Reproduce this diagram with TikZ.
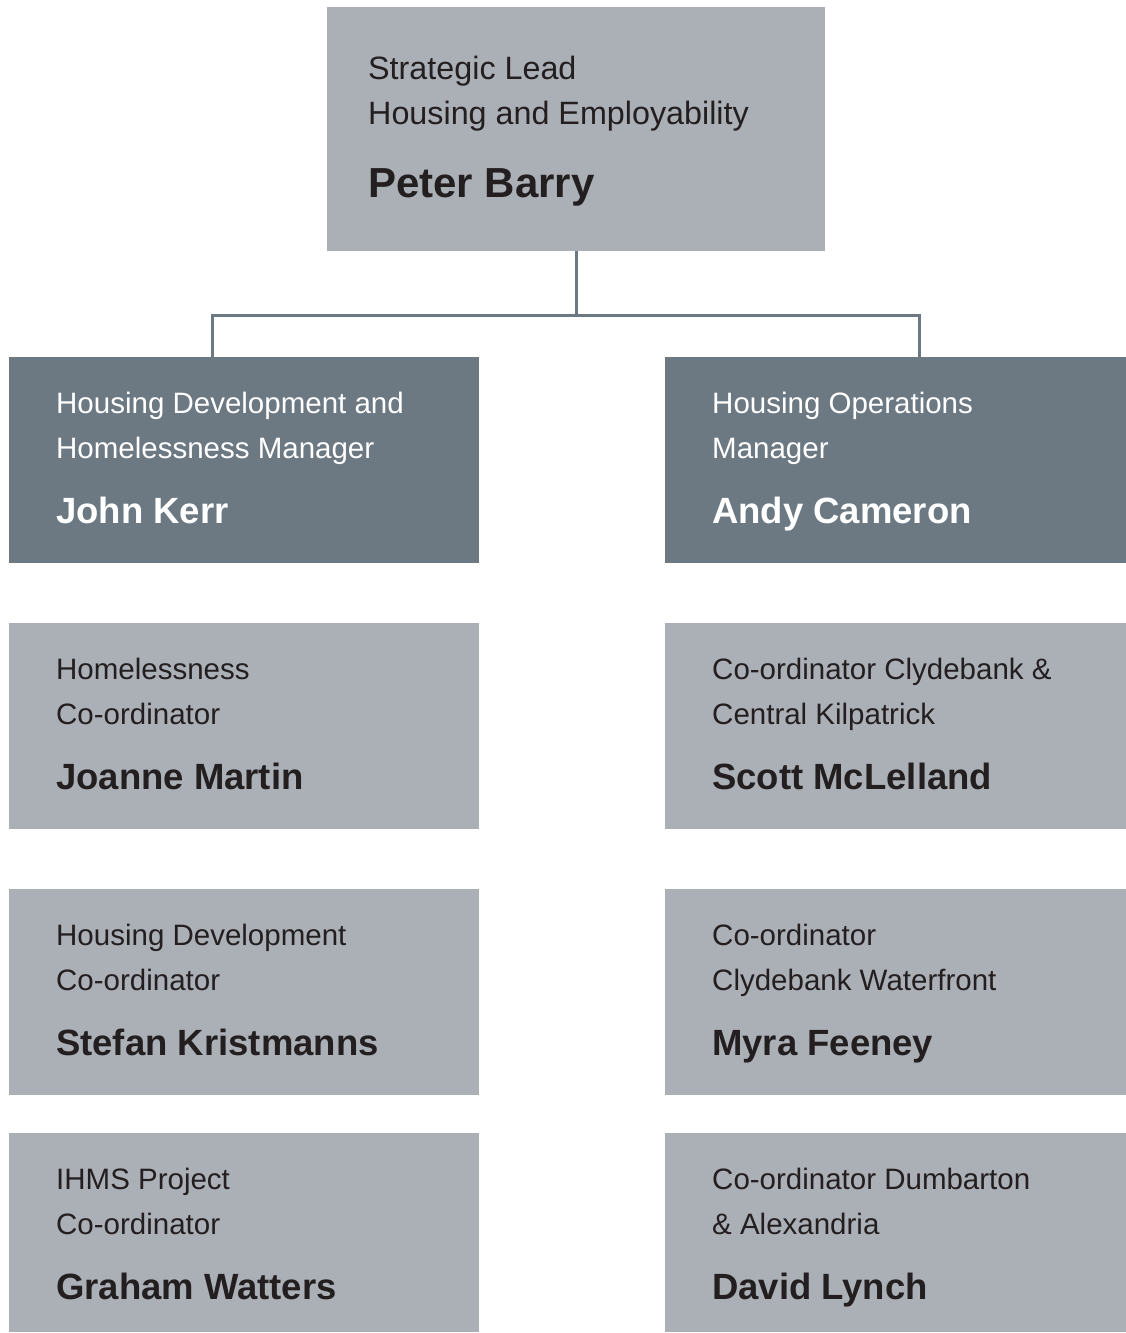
\documentclass[tikz,border=0pt]{standalone}
\usepackage{fontspec}
\setmainfont{Liberation Sans}
\usetikzlibrary{calc}
\definecolor{lightbox}{HTML}{ABAFB6}
\definecolor{darkbox}{HTML}{6C7983}
\definecolor{inkdark}{HTML}{231F20}
\tikzset{
  box/.style={anchor=north west, inner sep=0pt, outer sep=0pt, draw=none, minimum width=#1},
  lbox/.style={box=470pt, fill=lightbox, minimum height=206pt},
  rbox/.style={box=461pt, fill=lightbox, minimum height=206pt},
  dl/.style={lbox, fill=darkbox},
  dr/.style={rbox, fill=darkbox},
  role/.style={anchor=base west, inner sep=0pt, font=\fontsize{29.5}{35}\selectfont, text=inkdark},
  who/.style={anchor=base west, inner sep=0pt, font=\fontsize{36.5}{42}\selectfont\bfseries, text=inkdark},
  toprole/.style={role, font=\fontsize{32.3}{38}\selectfont},
  topwho/.style={who, font=\fontsize{42}{50}\selectfont\bfseries},
  conn/.style={draw=darkbox, line width=3pt}
}
\newcommand{\entry}[5]{%
  \node[role,#5] (#1r1) at ($(#1.north west)+(47,56)$) {#2};
  \node[role,#5] (#1r2) at ($(#1.north west)+(47,101)$) {#3};
  \node[who,#5] (#1n) at ($(#1.north west)+(47,166)$) {#4};
}
\begin{document}
\begin{tikzpicture}[x=1pt,y=-1pt]
\useasboundingbox (0,0) rectangle (1126,1333);
% top box
\node[box=498pt, fill=lightbox, minimum height=244pt] (top) at (327,7) {};
\node[toprole] (t1) at ($(top.north west)+(41,72)$) {Strategic Lead};
\node[toprole] (t2) at ($(top.north west)+(41,117)$) {Housing and Employability};
\node[topwho] (t3) at ($(top.north west)+(41,190)$) {Peter Barry};
% managers
\node[dl] (ml) at (9,357) {};
\node[dr] (mr) at (665,357) {};
\entry{ml}{Housing Development and}{Homelessness Manager}{John Kerr}{text=white}
\entry{mr}{Housing Operations}{Manager}{Andy Cameron}{text=white}
% left column
\node[lbox] (l2) at (9,623) {};
\node[lbox] (l3) at (9,889) {};
\node[lbox, minimum height=199pt] (l4) at (9,1133) {};
\entry{l2}{Homelessness}{Co-ordinator}{Joanne Martin}{}
\entry{l3}{Housing Development}{Co-ordinator}{Stefan Kristmanns}{}
\entry{l4}{IHMS Project}{Co-ordinator}{Graham Watters}{}
% right column
\node[rbox] (r2) at (665,623) {};
\node[rbox] (r3) at (665,889) {};
\node[rbox, minimum height=199pt] (r4) at (665,1133) {};
\entry{r2}{Co-ordinator Clydebank \&}{Central Kilpatrick}{Scott McLelland}{}
\entry{r3}{Co-ordinator}{Clydebank Waterfront}{Myra Feeney}{}
\entry{r4}{Co-ordinator Dumbarton}{\& Alexandria}{David Lynch}{}
% connectors
\coordinate (hub) at ($(top.south)+(0,64)$);
\coordinate (lx) at ($(ml.north west)+(203.5,0)$);
\coordinate (rx) at ($(mr.north west)+(254,0)$);
\draw[conn] (top.south) -- (hub);
\draw[conn] (hub) -| (lx);
\draw[conn] (hub) -| (rx);
\end{tikzpicture}
\end{document}
